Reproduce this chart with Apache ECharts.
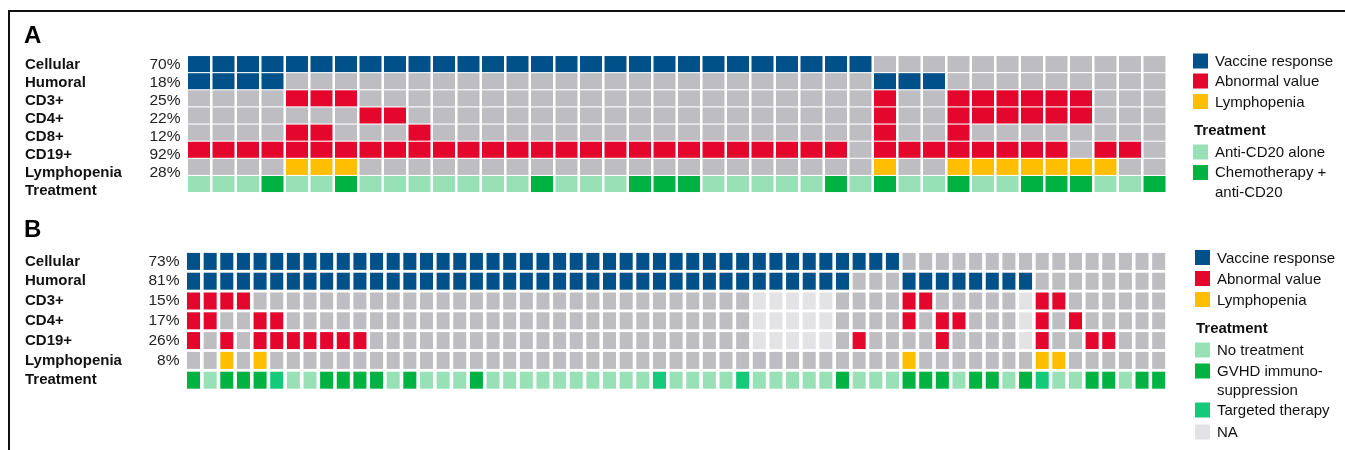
<!DOCTYPE html>
<html>
<head>
<meta charset="utf-8">
<script src="https://cdn.jsdelivr.net/npm/echarts@6/dist/echarts.min.js"></script>
<style>
html,body{margin:0;padding:0;background:#fff;}
#chart{width:1345px;height:450px;}
</style>
</head>
<body>
<div id="chart"></div>
<script>
// ---------- Panel A data (40 patients) ----------
const aRows = ['Cellular', 'Humoral', 'CD3+', 'CD4+', 'CD8+', 'CD19+', 'Lymphopenia', 'Treatment'];
const aPct = ['70%', '18%', '25%', '22%', '12%', '92%', '28%', ''];
const aCellular = [1,1,1,1,1,1,1,1,1,1, 1,1,1,1,1,1,1,1,1,1, 1,1,1,1,1,1,1,1,0,0, 0,0,0,0,0,0,0,0,0,0];
const aHumoral  = [1,1,1,1,0,0,0,0,0,0, 0,0,0,0,0,0,0,0,0,0, 0,0,0,0,0,0,0,0,1,1, 1,0,0,0,0,0,0,0,0,0];
const aCD3      = [0,0,0,0,1,1,1,0,0,0, 0,0,0,0,0,0,0,0,0,0, 0,0,0,0,0,0,0,0,1,0, 0,1,1,1,1,1,1,0,0,0];
const aCD4      = [0,0,0,0,0,0,0,1,1,0, 0,0,0,0,0,0,0,0,0,0, 0,0,0,0,0,0,0,0,1,0, 0,1,1,1,1,1,1,0,0,0];
const aCD8      = [0,0,0,0,1,1,0,0,0,1, 0,0,0,0,0,0,0,0,0,0, 0,0,0,0,0,0,0,0,1,0, 0,1,0,0,0,0,0,0,0,0];
const aCD19     = [1,1,1,1,1,1,1,1,1,1, 1,1,1,1,1,1,1,1,1,1, 1,1,1,1,1,1,1,0,1,1, 1,1,1,1,1,1,0,1,1,0];
const aLymph    = [0,0,0,0,1,1,1,0,0,0, 0,0,0,0,0,0,0,0,0,0, 0,0,0,0,0,0,0,0,1,0, 0,1,1,1,1,1,1,1,0,0];
// Treatment A: 0 = anti-CD20 alone, 1 = chemotherapy + anti-CD20
const aTreat    = [0,0,0,1,0,0,1,0,0,0, 0,0,0,0,1,0,0,0,1,1, 1,0,0,0,0,0,1,0,1,0, 0,1,0,0,1,1,1,0,0,1];

// ---------- Panel B data (59 patients) ----------
const N = null; // NA
const bRows = ['Cellular', 'Humoral', 'CD3+', 'CD4+', 'CD19+', 'Lymphopenia', 'Treatment'];
const bPct = ['73%', '81%', '15%', '17%', '26%', '8%', ''];
const bCellular = [1,1,1,1,1,1,1,1,1,1, 1,1,1,1,1,1,1,1,1,1, 1,1,1,1,1,1,1,1,1,1, 1,1,1,1,1,1,1,1,1,1, 1,1,1,0,0,0,0,0,0,0, 0,0,0,0,0,0,0,0,0];
const bHumoral  = [1,1,1,1,1,1,1,1,1,1, 1,1,1,1,1,1,1,1,1,1, 1,1,1,1,1,1,1,1,1,1, 1,1,1,1,1,1,1,1,1,1, 0,0,0,1,1,1,1,1,1,1, 1,0,0,0,0,0,0,0,0];
const bCD3      = [1,1,1,1,0,0,0,0,0,0, 0,0,0,0,0,0,0,0,0,0, 0,0,0,0,0,0,0,0,0,0, 0,0,0,0,N,N,N,N,N,0, 0,0,0,1,1,0,0,0,0,0, N,1,1,0,0,0,0,0,0];
const bCD4      = [1,1,0,0,1,1,0,0,0,0, 0,0,0,0,0,0,0,0,0,0, 0,0,0,0,0,0,0,0,0,0, 0,0,0,0,N,N,N,N,N,0, 0,0,0,1,0,1,1,0,0,0, N,1,0,1,0,0,0,0,0];
const bCD19     = [1,0,1,0,1,1,1,1,1,1, 1,0,0,0,0,0,0,0,0,0, 0,0,0,0,0,0,0,0,0,0, 0,0,0,0,N,N,N,N,N,0, 1,0,0,0,0,1,0,0,0,0, N,1,0,0,1,1,0,0,0];
const bLymph    = [0,0,1,0,1,0,0,0,0,0, 0,0,0,0,0,0,0,0,0,0, 0,0,0,0,0,0,0,0,0,0, 0,0,0,0,0,0,0,0,0,0, 0,0,0,1,0,0,0,0,0,0, 0,1,1,0,0,0,0,0,0];
// Treatment B: 0 = no treatment, 1 = GVHD immunosuppression, 2 = targeted therapy
const bTreat    = [1,0,1,1,1,2,0,0,1,1, 1,1,0,1,0,0,0,1,0,0, 0,0,0,0,0,0,0,0,2,0, 0,0,0,2,0,0,0,0,0,1, 0,0,0,1,1,1,0,1,1,0, 1,2,0,0,1,1,0,1,1];

// ---------- styling ----------
const C = {
  blue: '#00518a', red: '#e4062d', yellow: '#ffbe00', gray: '#bebdc2',
  light: '#98e1b7', dark: '#00b242', teal: '#14c97a', na: '#e3e3e5'
};
const FONT = '"Liberation Sans", Arial, Helvetica, sans-serif';
const aKinds = ['resp', 'resp', 'abn', 'abn', 'abn', 'abn', 'lym', 'trt'];
const bKinds = ['resp', 'resp', 'abn', 'abn', 'abn', 'lym', 'trt'];
const aData = [aCellular, aHumoral, aCD3, aCD4, aCD8, aCD19, aLymph, aTreat];
const bData = [bCellular, bHumoral, bCD3, bCD4, bCD19, bLymph, bTreat];

function cellColor(kind, v) {
  if (v === -1) return C.na;
  if (kind === 'trt') return v === 2 ? C.teal : (v === 1 ? C.dark : C.light);
  if (v === 0) return C.gray;
  return kind === 'resp' ? C.blue : (kind === 'abn' ? C.red : C.yellow);
}

function buildSeries(rows, kinds, gx, gy, xi, yi) {
  const data = [];
  rows.forEach((arr, r) => arr.forEach((v, c) => data.push([c, r, v === null ? -1 : v])));
  return {
    type: 'custom', xAxisIndex: xi, yAxisIndex: yi, data: data,
    encode: { x: 0, y: 1 }, silent: true,
    renderItem: function (params, api) {
      const c = api.value(0), r = api.value(1), v = api.value(2);
      const p = api.coord([c, r]);
      const s = api.size([1, 1]);
      return {
        type: 'rect',
        shape: { x: p[0] - s[0] / 2 + gx / 2, y: p[1] - s[1] / 2 + gy / 2, width: s[0] - gx, height: s[1] - gy },
        style: { fill: cellColor(kinds[r], v) }
      };
    }
  };
}

const colsA = aCellular.map((_, i) => String(i + 1));
const colsB = bCellular.map((_, i) => String(i + 1));

const gA = { left: 186.75, top: 55.5, width: 980, height: 137.1 };
const gAL = { left: 186.75, top: 55.5, width: 980, height: 144 };
const gB = { left: 185.2, top: 251.5, width: 981.8, height: 138.6 };

const hiddenX = (data, gi) => ({ type: 'category', gridIndex: gi, data: data, show: false, boundaryGap: true });
const nameAxis = (data, gi, margin) => ({
  type: 'category', gridIndex: gi, data: data, inverse: true, position: 'left', offset: 0,
  axisLine: { show: false }, axisTick: { show: false }, splitLine: { show: false },
  axisLabel: { interval: 0, hideOverlap: false, align: 'left', margin: margin, color: '#111', fontWeight: 'bold', fontSize: 15, fontFamily: FONT }
});
const pctAxis = (data, gi, margin) => ({
  type: 'category', gridIndex: gi, data: data, inverse: true, position: 'left', offset: 0,
  axisLine: { show: false }, axisTick: { show: false }, splitLine: { show: false },
  axisLabel: { interval: 0, hideOverlap: false, align: 'right', margin: margin, color: '#222', fontSize: 15.5, fontFamily: FONT }
});

// legend graphics
function legendItems(x0, items) {
  const g = [];
  items.forEach(it => {
    if (it.color) g.push({ type: 'rect', shape: { x: x0, y: it.y - 7.5, width: 15, height: 15 }, style: { fill: it.color } });
    (it.lines || []).forEach(l => g.push({
      type: 'text', style: { text: l.t, x: it.color ? x0 + 22 : x0 + 1, y: l.y, verticalAlign: 'middle',
        font: (it.bold ? 'bold ' : '') + '15px ' + FONT, fill: '#111' }
    }));
  });
  return g;
}

const legA = legendItems(1193, [
  { color: C.blue, y: 61, lines: [{ t: 'Vaccine response', y: 62 }] },
  { color: C.red, y: 81, lines: [{ t: 'Abnormal value', y: 82 }] },
  { color: C.yellow, y: 101.5, lines: [{ t: 'Lymphopenia', y: 103 }] },
  { bold: true, y: 131, lines: [{ t: 'Treatment', y: 131 }] },
  { color: C.light, y: 152, lines: [{ t: 'Anti-CD20 alone', y: 152.5 }] },
  { color: C.dark, y: 172.5, lines: [{ t: 'Chemotherapy +', y: 173 }, { t: 'anti-CD20', y: 193 }] }
]);
const legB = legendItems(1195, [
  { color: C.blue, y: 257.5, lines: [{ t: 'Vaccine response', y: 258.5 }] },
  { color: C.red, y: 278.5, lines: [{ t: 'Abnormal value', y: 279.5 }] },
  { color: C.yellow, y: 299.5, lines: [{ t: 'Lymphopenia', y: 300.5 }] },
  { bold: true, y: 329, lines: [{ t: 'Treatment', y: 329 }] },
  { color: C.light, y: 350, lines: [{ t: 'No treatment', y: 350.5 }] },
  { color: C.dark, y: 371, lines: [{ t: 'GVHD immuno-', y: 371.5 }, { t: 'suppression', y: 390.5 }] },
  { color: C.teal, y: 410, lines: [{ t: 'Targeted therapy', y: 410.5 }] },
  { color: C.na, y: 432, lines: [{ t: 'NA', y: 432.5 }] }
]);

const chart = echarts.init(document.getElementById('chart'), null, { renderer: 'canvas' });
chart.setOption({
  animation: false,
  backgroundColor: '#fff',
  grid: [
    Object.assign({ containLabel: false }, gA),
    Object.assign({ containLabel: false }, gAL),
    Object.assign({ containLabel: false }, gB)
  ],
  xAxis: [hiddenX(colsA, 0), hiddenX(colsA, 1), hiddenX(colsB, 2)],
  yAxis: [
    Object.assign(nameAxis(aRows, 0, 0), { axisLabel: { show: false } }),
    nameAxis(aRows, 1, gAL.left - 25),
    pctAxis(aPct, 1, gAL.left - 180.5),
    nameAxis(bRows, 2, gB.left - 25),
    pctAxis(bPct, 2, gB.left - 179.5)
  ],
  series: [
    buildSeries(aData, aKinds, 2.5, 1.1, 0, 0),
    buildSeries(bData, bKinds, 3.6, 2.8, 2, 3)
  ],
  graphic: [
    { type: 'polyline', shape: { points: [[9, 450], [9, 11], [1345, 11]] }, style: { stroke: '#111', lineWidth: 2, fill: null } },
    { type: 'text', style: { text: 'A', x: 24, y: 24, font: '900 24px ' + FONT, fill: '#000' } },
    { type: 'text', style: { text: 'B', x: 24, y: 218, font: '900 24px ' + FONT, fill: '#000' } }
  ].concat(legA, legB)
});
</script>
</body>
</html>
